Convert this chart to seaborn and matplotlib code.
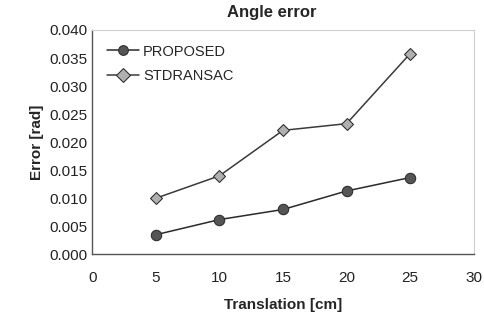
import matplotlib
matplotlib.use("Agg")
import matplotlib.pyplot as plt
import pandas as pd
import seaborn as sns

translation = [5, 10, 15, 20, 25]
proposed = [0.0035, 0.0062, 0.0080, 0.0113, 0.0137]
stdransac = [0.0100, 0.0140, 0.0221, 0.0233, 0.0358]
series_names = ["PROPOSED", "STDRANSAC"]

df = pd.concat(
    [
        pd.DataFrame({"translation": translation, "error": proposed, "method": series_names[0]}),
        pd.DataFrame({"translation": translation, "error": stdransac, "method": series_names[1]}),
    ],
    ignore_index=True,
)

sns.set_theme(style="white")
plt.rcParams["font.family"] = ["Liberation Sans", "DejaVu Sans"]

fig, ax = plt.subplots(figsize=(4.85, 3.22), dpi=100)
sns.lineplot(
    data=df,
    x="translation",
    y="error",
    hue="method",
    style="method",
    markers={"PROPOSED": "o", "STDRANSAC": "D"},
    dashes=False,
    palette={"PROPOSED": "#2a2a2a", "STDRANSAC": "#3a3a3a"},
    linewidth=1.1,
    markersize=7,
    ax=ax,
)

# marker faces: dark grey circles, light grey diamonds
faces = ["#555555", "#b0b0b0"]
for line, face, size in zip(ax.lines[:2], faces, [7.5, 6]):
    line.set_markerfacecolor(face)
    line.set_markeredgecolor("#2a2a2a")
    line.set_markersize(size)

ax.set_xlim(0, 30)
ax.set_ylim(0, 0.04)
ax.set_xticks(range(0, 31, 5))
ax.set_yticks([i * 0.005 for i in range(9)])
ax.set_yticklabels([f"{i * 0.005:.3f}" for i in range(9)])
ax.tick_params(axis="both", labelsize=11, colors="#222222", direction="in", length=3, width=0.8)
ax.tick_params(axis="x", pad=12)

for side in ["left", "bottom"]:
    ax.spines[side].set_color("#555555")
    ax.spines[side].set_linewidth(1.0)
for side in ["top", "right"]:
    ax.spines[side].set_color("#d0d0d0")
    ax.spines[side].set_linewidth(0.8)

ax.set_title("Angle error", fontsize=12, fontweight="bold", pad=9, x=0.47)
ax.set_xlabel("Translation [cm]", fontsize=11, fontweight="bold", labelpad=9)
ax.set_ylabel("Error [rad]", fontsize=11, fontweight="bold", labelpad=4)

handles, labels = ax.get_legend_handles_labels()
leg = ax.legend(
    handles,
    labels,
    loc="upper left",
    frameon=False,
    fontsize=10.5,
    handlelength=2.2,
    handletextpad=0.3,
    borderaxespad=0.6,
    labelspacing=0.7,
)
for h, face in zip(leg.legend_handles, faces):
    h.set_markerfacecolor(face)
    h.set_markeredgecolor("#2a2a2a")

fig.subplots_adjust(left=0.19, right=0.977, top=0.907, bottom=0.21)
fig.savefig("out.png", dpi=100)
